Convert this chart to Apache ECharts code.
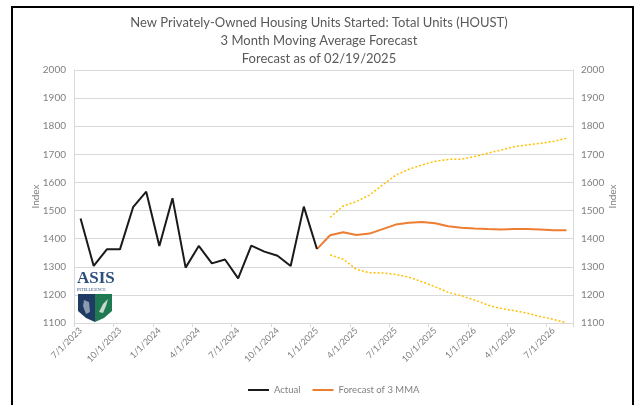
<!DOCTYPE html>
<html>
<head>
<meta charset="utf-8">
<script src="https://cdn.jsdelivr.net/npm/echarts@6/dist/echarts.min.js"></script>
<style>
  html, body { margin: 0; padding: 0; background: #fff; }
  #chart { width: 638px; height: 405px; }
</style>
</head>
<body>
<div id="chart"></div>
<script>
// months on the x axis, 7/1/2023 .. 8/1/2026
var months = [
  '7/1/2023', '8/1/2023', '9/1/2023', '10/1/2023', '11/1/2023', '12/1/2023',
  '1/1/2024', '2/1/2024', '3/1/2024', '4/1/2024', '5/1/2024', '6/1/2024',
  '7/1/2024', '8/1/2024', '9/1/2024', '10/1/2024', '11/1/2024', '12/1/2024',
  '1/1/2025', '2/1/2025', '3/1/2025', '4/1/2025', '5/1/2025', '6/1/2025',
  '7/1/2025', '8/1/2025', '9/1/2025', '10/1/2025', '11/1/2025', '12/1/2025',
  '1/1/2026', '2/1/2026', '3/1/2026', '4/1/2026', '5/1/2026', '6/1/2026',
  '7/1/2026', '8/1/2026'
]

// actual starts, 7/2023 .. 1/2025
var actual = [1472, 1303, 1362, 1362, 1512, 1567, 1374, 1544, 1297, 1374,
  1312, 1326, 1259, 1375, 1354, 1339, 1303, 1514, 1363]

// 3 month moving average forecast, starts at the last actual (1/2025)
var forecast = [1363, 1412, 1423, 1413, 1418, 1434, 1450, 1457, 1459, 1455,
  1444, 1439, 1436, 1434, 1433, 1434, 1434, 1433, 1430, 1430]

// confidence band, 2/2025 .. 8/2026
var upper = [1476, 1516, 1532, 1555, 1591, 1626, 1647, 1662, 1675, 1682,
  1683, 1692, 1704, 1715, 1727, 1733, 1739, 1746, 1757]
var lower = [1342, 1327, 1291, 1279, 1278, 1273, 1263, 1247, 1229, 1209,
  1197, 1182, 1164, 1152, 1144, 1135, 1123, 1113, 1101]

var yMin = 1100
var yMax = 2000
var yStep = 100

function pad(arr, before) {
  var out = []
  for (var i = 0; i < before; i++) out.push(null)
  out = out.concat(arr)
  while (out.length < months.length) out.push(null)
  return out
}

var font = 'Lato, "Open Sans", sans-serif'
var grey = '#808080'

var chart = echarts.init(document.getElementById('chart'), null, { renderer: 'canvas' })

var yAxisBase = function (pos) {
  return {
    type: 'value',
    position: pos,
    min: yMin,
    max: yMax,
    interval: yStep,
    name: 'Index',
    nameLocation: 'middle',
    nameGap: pos === 'left' ? 33 : 35,
    nameMoveOverlap: false,
    nameTextStyle: { color: grey, fontSize: 10, fontFamily: font },
    axisLine: { show: true, lineStyle: { color: '#d9d9d9' } },
    axisTick: { show: false },
    axisLabel: { color: grey, fontSize: 10, fontFamily: font, margin: 8, formatter: function (v) { return String(v) } },
    splitLine: { show: pos === 'left', lineStyle: { color: '#d9d9d9', width: 1 } }
  }
}

var option = {
  backgroundColor: '#fff',
  animation: false,
  title: {
    text: 'New Privately-Owned Housing Units Started: Total Units (HOUST)\n3 Month Moving Average Forecast\nForecast as of 02/19/2025',
    left: 'center',
    top: 9,
    textStyle: { color: '#595959', fontSize: 13, fontWeight: 'normal', fontFamily: font, lineHeight: 18 }
  },
  legend: {
    bottom: 5,
    left: 243,
    icon: 'rect',
    itemWidth: 21,
    itemHeight: 2,
    itemGap: 12,
    textStyle: { color: grey, fontSize: 9.5, fontFamily: font },
    data: ['Actual', 'Forecast of 3 MMA']
  },
  grid: { left: 74, right: 65, top: 70, bottom: 82 },
  xAxis: {
    type: 'category',
    data: months,
    boundaryGap: true,
    axisLine: { lineStyle: { color: '#d9d9d9' } },
    axisTick: { show: true, interval: 2, length: 4, lineStyle: { color: '#d9d9d9' } },
    axisLabel: { interval: 2, rotate: 45, color: grey, fontSize: 9, fontFamily: font, margin: 6 },
    splitLine: { show: false }
  },
  yAxis: [yAxisBase('left'), yAxisBase('right')],
  series: [
    {
      name: 'Actual',
      type: 'line',
      data: pad(actual, 0),
      symbol: 'none',
      color: '#1a1a1a',
      lineStyle: { color: '#1a1a1a', width: 2 },
      z: 3
    },
    {
      name: 'Forecast of 3 MMA',
      type: 'line',
      data: pad(forecast, actual.length - 1),
      symbol: 'none',
      color: '#ed7d31',
      lineStyle: { color: '#ed7d31', width: 2 },
      z: 2
    },
    {
      name: 'Upper',
      type: 'line',
      yAxisIndex: 1,
      data: pad(upper, actual.length),
      symbol: 'none',
      lineStyle: { color: '#ffc000', width: 1.5, type: [2, 2] },
      z: 1
    },
    {
      name: 'Lower',
      type: 'line',
      yAxisIndex: 1,
      data: pad(lower, actual.length),
      symbol: 'none',
      lineStyle: { color: '#ffc000', width: 1.5, type: [2, 2] },
      z: 1
    }
  ],
  graphic: [
    // outer frame
    { type: 'rect', shape: { x: 12, y: 7, width: 621, height: 402 }, style: { fill: null, stroke: '#000', lineWidth: 2 }, z: 100 },
    // logo
    { type: 'text', left: 77, top: 270, style: { text: 'ASIS', fill: '#2d4f7c', font: 'bold 17px "Liberation Serif", serif' }, z: 100 },
    { type: 'text', left: 77, top: 288, style: { text: 'INTELLIGENCE', fill: '#2d4f7c', font: '4px "Liberation Serif", serif' }, z: 100 },
    { type: 'polygon', shape: { points: [[78, 294], [95, 294], [95, 322], [86, 318], [78, 311]] }, style: { fill: '#1f3b63' }, z: 100 },
    { type: 'polygon', shape: { points: [[95, 294], [112, 294], [112, 311], [104, 318], [95, 322]] }, style: { fill: '#1f7a52' }, z: 100 },
    { type: 'polygon', shape: { points: [[84, 300], [89, 302], [90, 312], [86, 314], [83, 306]] }, style: { fill: '#8a9bb0' }, z: 101 },
    { type: 'polygon', shape: { points: [[99, 312], [103, 304], [108, 299], [106, 306], [103, 313]] }, style: { fill: '#c9d8cf' }, z: 101 }
  ]
}

chart.setOption(option)
</script>
</body>
</html>
